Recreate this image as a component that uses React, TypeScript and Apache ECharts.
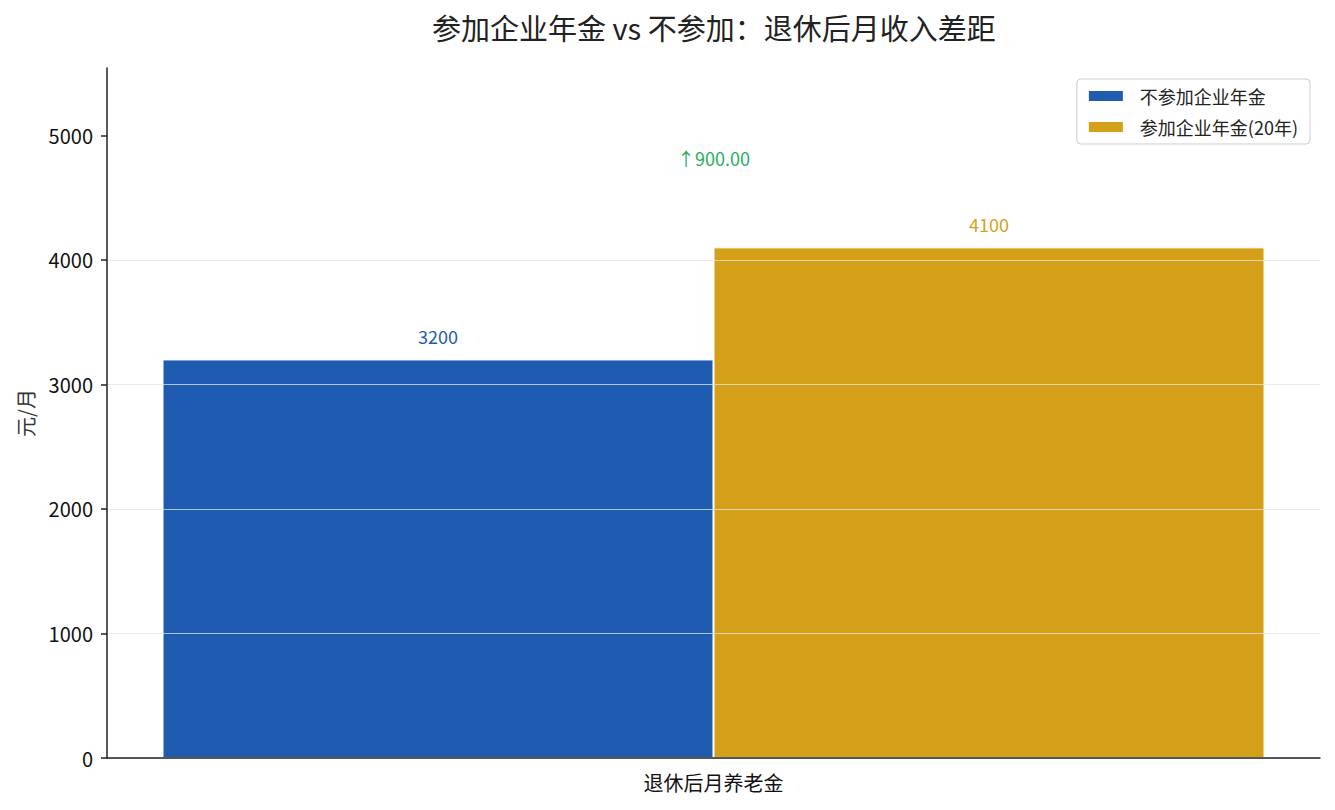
import React, { useEffect, useRef } from 'react';
import * as echarts from 'echarts';

const categories = ['退休后月养老金'];
const seriesNames = ['不参加企业年金', '参加企业年金(20年)'];
const noAnnuity = [3200];
const withAnnuity = [4100];
const yTicks = [0, 1000, 2000, 3000, 4000, 5000];
const yMax = 5540;
const diffLabelY = [4815];

const FONT = '"Noto Sans CJK SC", "Noto Sans", sans-serif';
const BLUE = '#1f5bb0';
const GOLD = '#d4a01a';
const GREEN = '#27ae60';

const App: React.FC = () => {
  const chartRef = useRef<HTMLDivElement>(null);

  useEffect(() => {
    document.body.style.margin = '0';
    if (!chartRef.current) return;
    const chart = echarts.init(chartRef.current, undefined, { renderer: 'svg' });

    const diff = (withAnnuity[0] - noAnnuity[0]).toFixed(2);

    const option: echarts.EChartsOption = {
      animation: false,
      textStyle: { fontFamily: FONT },
      title: {
        text: '参加企业年金 vs 不参加：退休后月收入差距',
        left: 427,
        top: 7,
        textStyle: { fontSize: 29, fontWeight: 'normal', color: '#222', fontFamily: FONT },
      },
      legend: {
        data: seriesNames,
        orient: 'vertical',
        right: 25,
        top: 79,
        padding: [8, 12, 8, 10],
        itemGap: 13,
        itemWidth: 36,
        itemHeight: 12,
        icon: 'rect',
        borderColor: '#cccccc',
        borderWidth: 1,
        borderRadius: 4,
        backgroundColor: 'rgba(255,255,255,0.8)',
        textStyle: { fontSize: 18, color: '#222', padding: [0, 0, 0, 11], fontFamily: FONT },
      },
      grid: { left: 107, right: 15, top: 68, bottom: 52 },
      xAxis: {
        type: 'category',
        data: categories,
        z: 3,
        axisLine: { lineStyle: { color: '#222', width: 1.5 } },
        axisTick: { alignWithLabel: true, length: 6, lineStyle: { color: '#222', width: 1.5 } },
        axisLabel: { fontSize: 20, color: '#111', margin: 14, fontFamily: FONT },
      },
      yAxis: {
        type: 'value',
        min: 0,
        max: yMax,
        interval: 1000,
        z: 3,
        name: '元/月',
        nameLocation: 'middle',
        nameGap: 72,
        nameTextStyle: { fontSize: 20, color: '#333', fontFamily: FONT },
        axisLine: { show: true, lineStyle: { color: '#222', width: 1.5 } },
        axisTick: {
          show: true,
          length: 6,
          lineStyle: { color: '#222', width: 1.5 },
          customValues: yTicks,
        },
        axisLabel: {
          fontSize: 20,
          color: '#111',
          margin: 14,
          customValues: yTicks,
          formatter: (v: number) => String(v),
          fontFamily: FONT,
        },
        splitLine: {
          show: true,
          showMaxLine: false,
          lineStyle: { color: 'rgba(228,228,228,0.75)', width: 1 },
        },
      },
      series: [
        {
          name: seriesNames[0],
          type: 'bar',
          data: noAnnuity,
          barWidth: 551,
          barGap: '0%',
          itemStyle: { color: BLUE, borderColor: '#fff', borderWidth: 1 },
          label: {
            show: true,
            position: 'top',
            distance: 14,
            fontSize: 18,
            color: BLUE,
            fontFamily: FONT,
          },
        },
        {
          name: seriesNames[1],
          type: 'bar',
          data: withAnnuity,
          barWidth: 551,
          barGap: '0%',
          itemStyle: { color: GOLD, borderColor: '#fff', borderWidth: 1 },
          label: {
            show: true,
            position: 'top',
            distance: 14,
            fontSize: 18,
            color: GOLD,
            fontFamily: FONT,
          },
        },
        {
          name: 'diff',
          type: 'scatter',
          data: diffLabelY,
          symbolSize: 0,
          silent: true,
          itemStyle: { opacity: 1 },
          label: {
            show: true,
            position: 'inside',
            formatter: `↑${diff}`,
            fontSize: 18,
            color: GREEN,
            fontFamily: FONT,
          },
        },
      ],
    };

    chart.setOption(option);
    return () => {
      chart.dispose();
    };
  }, []);

  return <div ref={chartRef} style={{ width: 1335, height: 810 }} />;
};

export default App;
